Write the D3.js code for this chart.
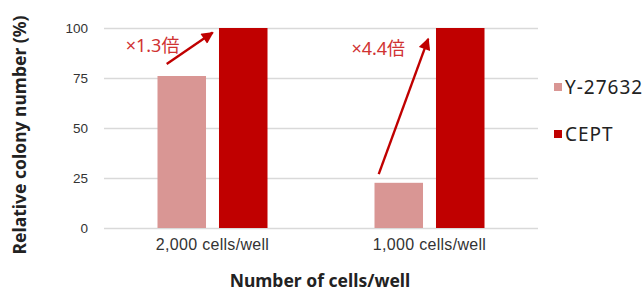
<!DOCTYPE html>
<html>
<head>
<meta charset="utf-8">
<style>
    body { margin: 0; background: #fff; }
    svg { font-family: "Noto Sans", "Noto Sans CJK JP", sans-serif; }
    .y .tick line { stroke: #d9d9d9; stroke-width: 1.5px; }
    .y .domain { display: none; }
    .y .tick text { font-size: 13.5px; fill: #333; }
    .x .domain, .x .tick line { display: none; }
    .x .tick text { font-size: 16px; fill: #333; letter-spacing: 0.3px; }
</style>
</head>
<body>
<svg width="643" height="294"></svg>
<script src="https://d3js.org/d3.v7.min.js"></script>
<script>
    // data
    let categories = ["2,000 cells/well", "1,000 cells/well"];
    let seriesNames = ["Y-27632", "CEPT"];
    let y27632 = [76, 22.6];
    let cept = [100, 100];
    let yTicks = [0, 25, 50, 75, 100];
    // annotations: positions in category units (0..2) and value units
    let annoText = ["×1.3倍", "×4.4倍"];
    let annoPos = [[0.10, 91.2], [1.14, 89.6]];
    let arrowFrom = [[0.289, 82], [1.266, 26.9]];
    let arrowTo = [[0.501, 97.7], [1.494, 94.6]];

    let colors = ["#d99694", "#c00000"];

    let margin = { top: 28, right: 105, bottom: 64, left: 104 };
    let width = 643, height = 294;
    let svg = d3.select("svg");

    let x = d3.scaleBand()
        .domain(categories)
        .range([margin.left, width - margin.right]);

    let xl = d3.scaleLinear()
        .domain([0, 2])
        .range([margin.left, width - margin.right]);

    let y = d3.scaleLinear()
        .domain([0, 100])
        .range([height - margin.bottom - 2, margin.top]);

    let xSub = d3.scaleBand()
        .domain(seriesNames)
        .range([0, x.bandwidth()])
        .paddingInner(0.211)
        .paddingOuter(0.87);

    svg.append("g")
        .attr("class", "y axis")
        .attr("transform", `translate(${margin.left},0)`)
        .call(d3.axisRight(y).tickValues(yTicks).tickSize(width - margin.left - margin.right).tickPadding(0))
        .selectAll(".tick text")
        .attr("x", -16)
        .attr("text-anchor", "end");

    svg.append("g")
        .attr("class", "x axis")
        .attr("transform", `translate(0,${y(0)})`)
        .call(d3.axisBottom(x).tickSize(0).tickPadding(11));

    let rows = categories.map((c, i) => [
        { cat: c, s: seriesNames[0], v: y27632[i] },
        { cat: c, s: seriesNames[1], v: cept[i] }
    ]).flat();

    svg.append("g")
        .selectAll("rect")
        .data(rows)
        .join("rect")
        .attr("x", d => x(d.cat) + xSub(d.s))
        .attr("width", xSub.bandwidth())
        .attr("y", d => y(d.v))
        .attr("height", d => y(0) - y(d.v))
        .style("fill", (d, i) => colors[i % 2]);

    // arrows
    svg.append("defs").append("marker")
        .attr("id", "head")
        .attr("viewBox", "0 0 10 10")
        .attr("refX", 9)
        .attr("refY", 5)
        .attr("markerWidth", 5.5)
        .attr("markerHeight", 5)
        .attr("orient", "auto")
        .attr("markerUnits", "strokeWidth")
        .append("path")
        .attr("d", "M0,0L10,5L0,10Z")
        .style("fill", "#c00000");

    svg.append("g")
        .selectAll("line")
        .data(arrowFrom)
        .join("line")
        .attr("x1", d => xl(d[0]))
        .attr("y1", d => y(d[1]))
        .attr("x2", (d, i) => xl(arrowTo[i][0]))
        .attr("y2", (d, i) => y(arrowTo[i][1]))
        .style("stroke", "#c00000")
        .style("stroke-width", 2.4)
        .attr("marker-end", "url(#head)");

    svg.append("g")
        .selectAll("text")
        .data(annoText)
        .join("text")
        .attr("x", (d, i) => xl(annoPos[i][0]))
        .attr("y", (d, i) => y(annoPos[i][1]))
        .attr("dy", "0.35em")
        .text(d => d)
        .style("fill", "#d03232")
        .style("font-size", "18px");

    // legend
    let legend = svg.append("g")
        .selectAll("g")
        .data(seriesNames)
        .join("g")
        .attr("transform", (d, i) => `translate(554,${87 + i * 47})`);

    legend.append("rect")
        .attr("y", -4)
        .attr("width", 8)
        .attr("height", 8)
        .style("fill", (d, i) => colors[i]);

    legend.append("text")
        .attr("x", 11)
        .attr("dy", "0.36em")
        .text(d => d)
        .style("font-size", "19px")
        .style("letter-spacing", "1px")
        .style("fill", "#222");

    // axis titles
    svg.append("text")
        .attr("x", 320)
        .attr("y", 281)
        .attr("dy", "0.35em")
        .attr("text-anchor", "middle")
        .text("Number of cells/well")
        .style("font-size", "17.5px")
        .style("font-weight", "bold")
        .style("fill", "#222");

    svg.append("text")
        .attr("transform", `translate(20,135) rotate(-90)`)
        .attr("dy", "0.35em")
        .attr("text-anchor", "middle")
        .text("Relative colony number (%)")
        .style("font-size", "17.5px")
        .style("font-weight", "bold")
        .style("fill", "#222");
</script>
</body>
</html>
